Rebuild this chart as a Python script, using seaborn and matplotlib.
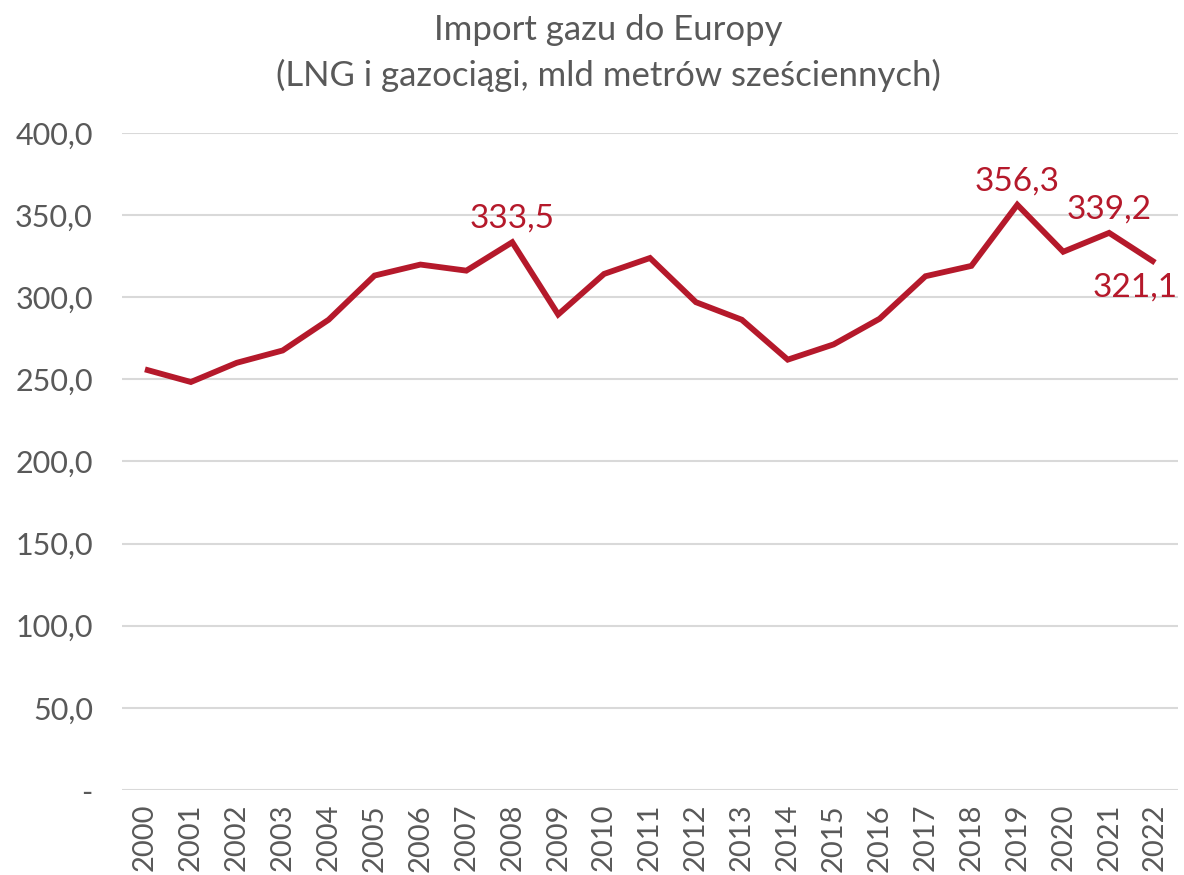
import matplotlib
matplotlib.use("Agg")
import matplotlib.pyplot as plt
import seaborn as sns
import pandas as pd

# data
years = list(range(2000, 2023))
imports = [256.1, 248.4, 260.1, 267.6, 286.3, 313.2, 319.9, 316.2, 333.5, 289.5,
           314.2, 323.9, 297.0, 286.3, 262.0, 271.3, 286.9, 312.8, 319.1, 356.3,
           327.7, 339.2, 321.1]
yticks = [0, 50, 100, 150, 200, 250, 300, 350, 400]
ytick_labels = ["-", "50,0", "100,0", "150,0", "200,0", "250,0", "300,0", "350,0", "400,0"]
labelled_years = [2008, 2019, 2021, 2022]

df = pd.DataFrame({"rok": years, "import": imports})

sns.set_theme(style="white")
plt.rcParams["font.family"] = ["Lato", "DejaVu Sans"]

RED = "#B5192B"
GREY = "#595959"

fig = plt.figure(figsize=(11.84, 8.75), dpi=100)
ax = fig.add_axes([122 / 1184, 1 - 790 / 875, 1056 / 1184, 657 / 875])

sns.lineplot(data=df, x="rok", y="import", ax=ax, color=RED, linewidth=4.2,
             solid_joinstyle="miter", solid_capstyle="butt")

ax.set_ylim(0, 400)
ax.set_xlim(years[0] - 0.5, years[-1] + 0.5)
ax.set_yticks(yticks)
ax.set_yticklabels(ytick_labels)
ax.set_xticks(years)
ax.set_xticklabels([str(y) for y in years], rotation=90)
ax.tick_params(axis="both", labelsize=22, labelcolor=GREY, length=0)
ax.tick_params(axis="x", labelsize=21, pad=10)
ax.tick_params(axis="y", pad=21)
ax.set_xlabel("")
ax.set_ylabel("")
ax.grid(axis="y", color="#D9D9D9", linewidth=1.5)
ax.set_axisbelow(True)
for s in ax.spines.values():
    s.set_visible(False)

# value labels
for yr in labelled_years:
    v = imports[years.index(yr)]
    txt = f"{v:.1f}".replace(".", ",")
    if yr == 2022:
        ax.annotate(txt, (yr, v), xytext=(-14, -7), textcoords="offset points",
                    ha="center", va="top", fontsize=24, color=RED)
    else:
        ax.annotate(txt, (yr, v), xytext=(0, 6), textcoords="offset points",
                    ha="center", va="bottom", fontsize=24, color=RED)

fig.text(608 / 1184, 1 - 30 / 875, "Import gazu do Europy", ha="center", va="center",
         fontsize=25, color=GREY)
fig.text(608 / 1184, 1 - 75 / 875, "(LNG i gazociągi, mld metrów sześciennych)",
         ha="center", va="center", fontsize=25, color=GREY)

fig.savefig("out.png", dpi=100)
